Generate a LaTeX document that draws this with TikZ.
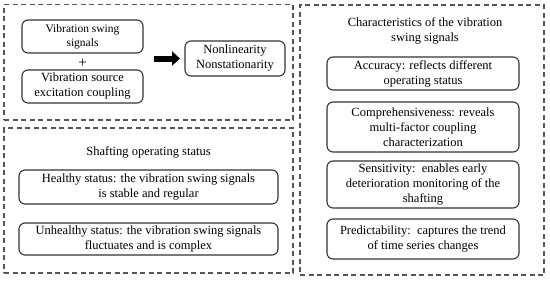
\documentclass[tikz,border=0pt]{standalone}
\usepackage{fontspec}
\setmainfont{Liberation Serif}
\usetikzlibrary{arrows.meta}
\definecolor{boxline}{HTML}{333333}
\definecolor{dashline}{HTML}{555555}
\begin{document}
\begin{tikzpicture}[x=1pt,y=-1pt,
  every node/.style={inner sep=0pt,outer sep=0pt},
  txt/.style={font=\rmfamily\fontsize{12.5}{15}\selectfont,align=center},
  rbox/.style={txt,draw=boxline,line width=1.1pt,rounded corners=6pt},
  dbox/.style={draw=dashline,line width=1.1pt,dash pattern=on 5pt off 3.5pt}]
\useasboundingbox (0,0) rectangle (550,281);
% dashed containers
\node[dbox,minimum width=289pt,minimum height=115.5pt] (tl) at (148.5,62.25) {};
\node[dbox,minimum width=289pt,minimum height=145pt] (bl) at (148.5,200.5) {};
\node[dbox,minimum width=244pt,minimum height=270pt] (rt) at (422,140) {};
% top-left
\node[rbox,minimum width=121pt,minimum height=33pt,font=\rmfamily\fontsize{11.5}{14}\selectfont] (vs) at (82.5,36.5) {Vibration swing\\signals};
\node[txt,font=\rmfamily\fontsize{15}{15}\selectfont] (plus) at (82.5,63.5) {+};
\node[rbox,minimum width=121pt,minimum height=33pt] (vsec) at (82.5,86.5) {Vibration source\\excitation coupling};
\node[rbox,minimum width=100pt,minimum height=35pt] (nn) at (235,58.5) {Nonlinearity\\Nonstationarity};
\coordinate (a1) at (154,58.5);
\coordinate (a2) at (180,58.5);
\draw[line width=6pt,-{Triangle[length=8pt,width=14pt]}] (a1) -- (a2);
% bottom-left
\node[txt] (st) at (148.5,152) {Shafting operating status};
\node[rbox,minimum width=259pt,minimum height=34pt] (hs) at (148.5,187) {Healthy status: the vibration swing signals\\is stable and regular};
\node[rbox,minimum width=259pt,minimum height=32pt] (us) at (148.5,239) {Unhealthy status: the vibration swing signals\\fluctuates and is complex};
% right
\node[txt] (ch) at (425,30.5) {Characteristics of the vibration\\swing signals};
\node[rbox,minimum width=192pt,minimum height=33pt] (acc) at (423,73.5) {Accuracy: reflects different\\operating status};
\node[rbox,minimum width=192pt,minimum height=50pt] (comp) at (423,127) {Comprehensiveness: reveals\\multi-factor coupling\\characterization};
\node[rbox,minimum width=192pt,minimum height=47pt] (sens) at (423,184.5) {Sensitivity:\ \ enables early\\deterioration monitoring of the\\shafting};
\node[rbox,minimum width=192pt,minimum height=40pt] (pred) at (423,239) {Predictability:\ \ captures the trend\\of time series changes};
\end{tikzpicture}
\end{document}
